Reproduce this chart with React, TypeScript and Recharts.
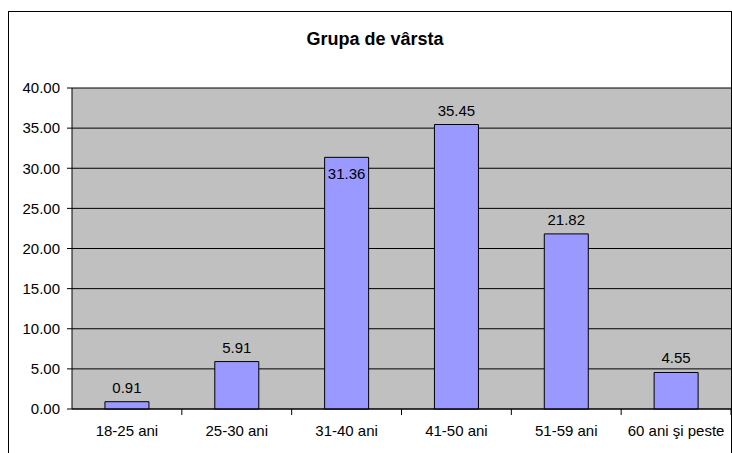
import React from "react";
import { BarChart, Bar, XAxis, YAxis, CartesianGrid, LabelList } from "recharts";

const categories = ["18-25 ani", "25-30 ani", "31-40 ani", "41-50 ani", "51-59 ani", "60 ani şi peste"];
const values = [0.91, 5.91, 31.36, 35.45, 21.82, 4.55];
const yTicks = [0, 5, 10, 15, 20, 25, 30, 35, 40];

const data = categories.map((name, i) => ({ name, value: values[i] }));

const FONT = "'Liberation Sans', Arial, sans-serif";
const FS = 15;
const PLOT_LEFT = 72;
const PLOT_RIGHT = 731;
const BAND = (PLOT_RIGHT - PLOT_LEFT) / categories.length;

const XTick = (props: any) => {
  const { x, y, payload } = props;
  const bx = x + BAND / 2;
  return (
    <g>
      <line x1={bx} y1={y - 8} x2={bx} y2={y - 2} stroke="#000" />
      <text x={x} y={y + 19} textAnchor="middle" fontSize={FS} fontFamily={FONT} fill="#000">
        {payload.value}
      </text>
    </g>
  );
};

const ValueLabel = (props: any) => {
  const { x, y, width, value, index } = props;
  const inside = index === 2;
  return (
    <text
      x={x + width / 2}
      y={inside ? y + 22 : y - 9}
      textAnchor="middle"
      fontSize={FS}
      fontFamily={FONT}
      fill="#000"
    >
      {Number(value).toFixed(2)}
    </text>
  );
};

export default function App() {
  return (
    <div style={{ position: "absolute", left: 0, top: 0, width: 732, height: 453, overflow: "hidden", background: "#fff" }}>
      <div
        style={{
          position: "absolute",
          left: 8,
          top: 11,
          width: 722,
          height: 460,
          borderLeft: "1px solid #000",
          borderTop: "1px solid #000",
          borderRight: "1px solid #000",
        }}
      />
      <div style={{ position: "absolute", left: 0, top: 0 }}>
        <BarChart
          width={732}
          height={453}
          data={data}
          margin={{ top: 88, right: 732 - PLOT_RIGHT, left: 8, bottom: 14 }}
          barCategoryGap="30%"
        >
          <text x={375} y={45} textAnchor="middle" fontSize={18} fontWeight="bold" fontFamily={FONT} fill="#000">
            Grupa de vârsta
          </text>
          <CartesianGrid vertical={false} stroke="#000" fill="#C0C0C0" fillOpacity={1} />
          <XAxis
            dataKey="name"
            height={30}
            axisLine={{ stroke: "#000" }}
            tickLine={false}
            tick={<XTick />}
            interval={0}
          />
          <YAxis
            width={64}
            domain={[0, 40]}
            ticks={yTicks}
            tickFormatter={(v: number) => v.toFixed(2)}
            axisLine={{ stroke: "#000" }}
            tickLine={{ stroke: "#000" }}
            tickSize={5}
            tickMargin={7}
            tick={{ fontSize: FS, fontFamily: FONT, fill: "#000" }}
            interval={0}
          />
          <Bar dataKey="value" fill="#9999FF" stroke="#000" strokeWidth={1} isAnimationActive={false}>
            <LabelList dataKey="value" content={<ValueLabel />} />
          </Bar>
        </BarChart>
      </div>
    </div>
  );
}
